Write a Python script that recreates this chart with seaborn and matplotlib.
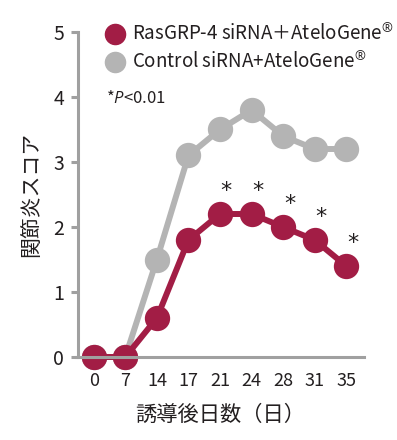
import pandas as pd
import matplotlib
matplotlib.use("Agg")
import matplotlib.pyplot as plt
import seaborn as sns
from matplotlib.lines import Line2D

days = ["0", "7", "14", "17", "21", "24", "28", "31", "35"]
rasgrp = [0, 0, 0.6, 1.8, 2.2, 2.2, 2.0, 1.8, 1.4]
control = [0, 0, 1.5, 3.1, 3.5, 3.8, 3.4, 3.2, 3.2]
signif = ["21", "24", "28", "31", "35"]

lab_ras = "RasGRP-4 siRNA＋AteloGene$^{\\circledR}$"
lab_ctl = "Control siRNA+AteloGene$^{\\circledR}$"

red = "#A21D45"
grey = "#B4B4B4"
axis_grey = "#A0A0A0"

sns.set_style("white")
plt.rcParams["font.family"] = ["Noto Sans CJK JP", "DejaVu Sans"]
plt.rcParams["mathtext.fontset"] = "custom"
plt.rcParams["mathtext.rm"] = "Open Sans"
plt.rcParams["mathtext.it"] = "Open Sans:italic"

df = pd.concat([
    pd.DataFrame({"day": days, "score": control, "group": "ctl"}),
    pd.DataFrame({"day": days, "score": rasgrp, "group": "ras"}),
])

fig = plt.figure(figsize=(3.97, 4.40), dpi=100)
ax = fig.add_axes([78 / 397, 1 - 357 / 440, (362 - 78) / 397, (357 - 32) / 440])

sns.pointplot(data=df, x="day", y="score", hue="group", order=days,
              hue_order=["ctl", "ras"], palette={"ctl": grey, "ras": red},
              markersize=15, linewidth=4.3, ax=ax, legend=False)
for coll in ax.collections:
    coll.set_clip_on(False)
for ln in ax.lines:
    ln.set_clip_on(False)

for d in signif:
    i = days.index(d)
    ax.text(i + 0.2, rasgrp[i] + 0.36, "*", ha="center", va="center",
            fontsize=16, color="#231F20", family="DejaVu Sans")

ax.set_xlim(-0.5, 8.5)
ax.set_ylim(0, 5)
ax.set_yticks(range(6))
ax.set_xticks(range(len(days)))
ax.set_xticklabels(days)
ax.set_xticks([i - 0.5 for i in range(len(days) + 1)], minor=True)
ax.tick_params(axis="x", which="major", length=0, pad=11, labelsize=13, labelcolor="#231F20")
ax.tick_params(axis="x", which="minor", length=5, width=2.2, color=axis_grey, direction="out")
ax.tick_params(axis="y", length=5, width=2.2, color=axis_grey, pad=5, labelsize=14,
               labelcolor="#231F20", direction="out", left=True)

for s in ["top", "right"]:
    ax.spines[s].set_visible(False)
for s in ["left", "bottom"]:
    ax.spines[s].set_color(axis_grey)
    ax.spines[s].set_linewidth(2.2)
ax.spines["bottom"].set_bounds(-0.55, 8.55)

ax.set_xlabel("誘導後日数（日）", fontsize=15.3, color="#231F20", labelpad=10)
ax.set_ylabel("関節炎スコア", fontsize=15, color="#231F20", labelpad=8)

handles = [
    Line2D([], [], marker="o", linestyle="", markersize=14.5, color=red),
    Line2D([], [], marker="o", linestyle="", markersize=14.5, color=grey),
]
ax.legend(handles, [lab_ras, lab_ctl], loc="upper left", bbox_to_anchor=(0.065, 1.045),
          frameon=False, fontsize=13.5, handletextpad=0.3, labelspacing=0.34,
          borderaxespad=0, handlelength=1.2, labelcolor="#231F20")

ax.text(0.1, 0.795, "*$\\mathit{P}$<0.01", transform=ax.transAxes, fontsize=12,
        color="#231F20", va="center")

fig.savefig("out.png", dpi=100)
